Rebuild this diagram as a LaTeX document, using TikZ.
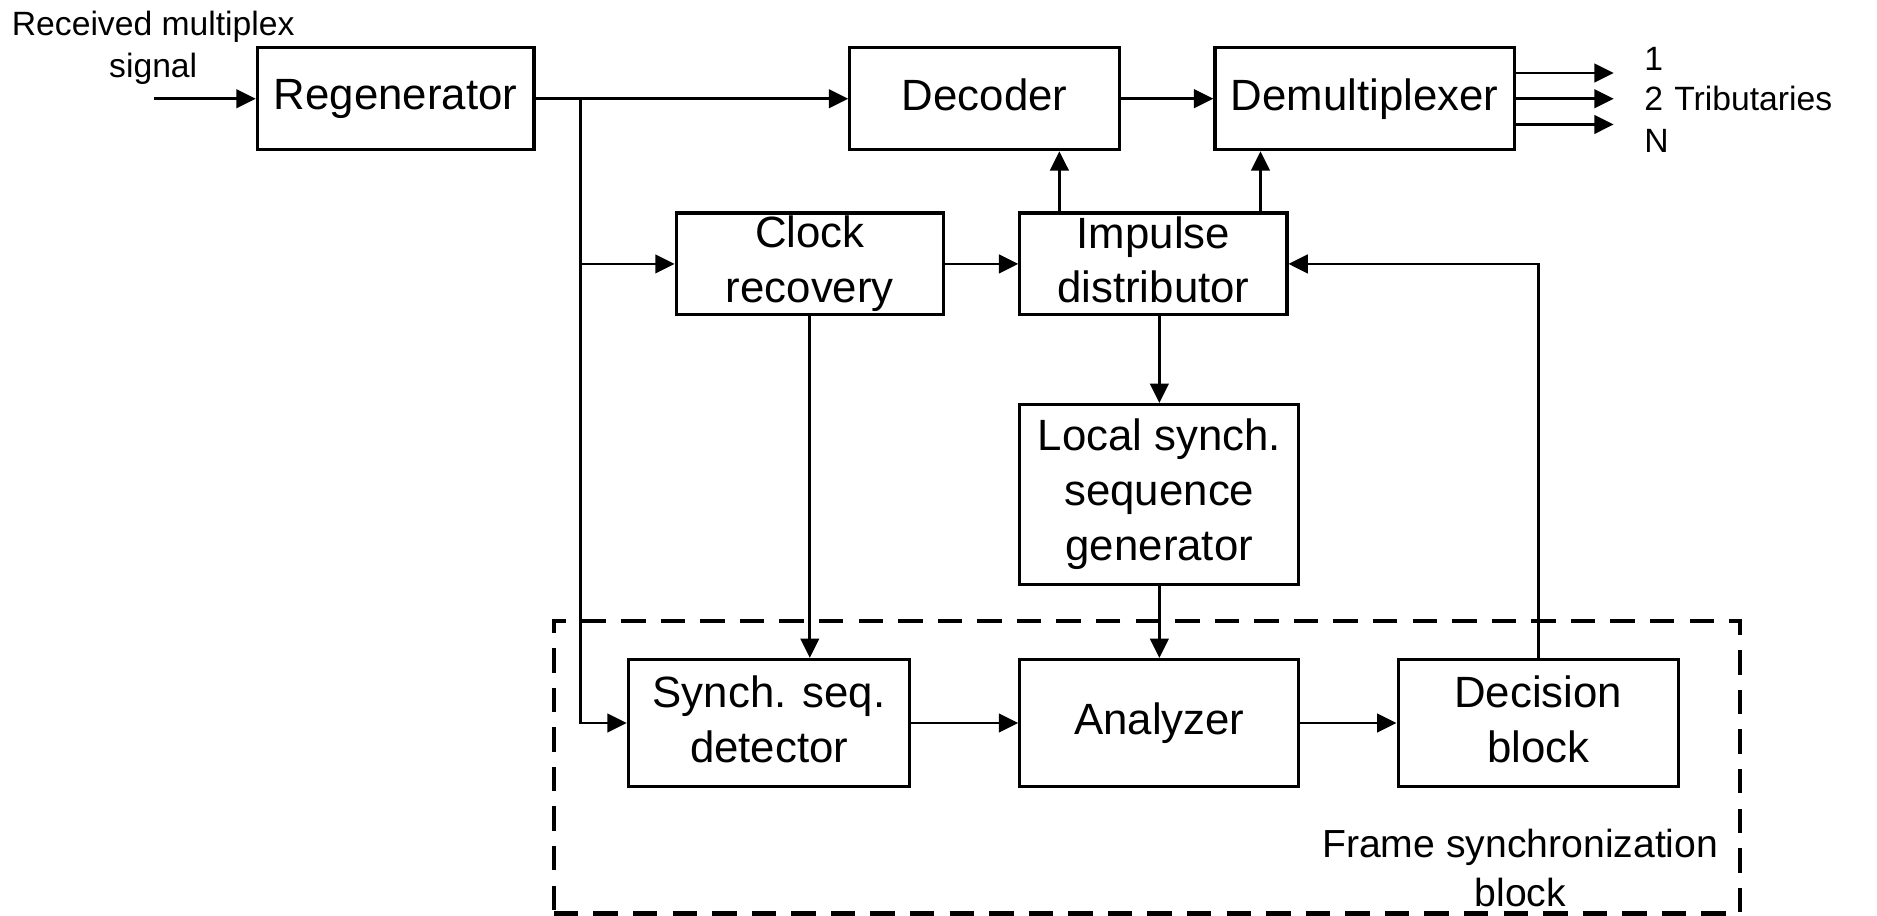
\documentclass[tikz,border=0pt]{standalone}
\usepackage{fontspec}
\setmainfont{Liberation Sans}
\usetikzlibrary{arrows.meta}
\newcommand{\lnstrut}{\rule[-2pt]{0pt}{9.45pt}}
\begin{document}
\begin{tikzpicture}[x=0.01cm,y=-0.01cm,
  blk/.style={draw,line width=0.75pt,rectangle,inner sep=0pt,align=center,
    font=\fontsize{10.4}{13}\selectfont},
  arr/.style={line width=0.65pt,-{Triangle[length=4.6pt,width=4.4pt]}},
  small/.style={inner sep=0pt,font=\fontsize{8}{10}\selectfont},
  framebox/.style={draw,line width=1pt,dash pattern=on 5.8pt off 3.6pt,rectangle,inner sep=0pt}
]
\useasboundingbox (0,0) rectangle (1568,765);
% frame synchronization block
\node[framebox,minimum width=9.9cm,minimum height=2.44cm] (frame) at (958,641) {};
\node[inner sep=0pt,align=center,font=\fontsize{9.3}{11.7}\selectfont] (framelbl) at (1270,725) {Frame synchronization\\block};
% blocks
\node[blk,minimum width=2.31cm,minimum height=0.85cm] (reg) at (330.5,82.5) {\lnstrut Regenerator};
\node[blk,minimum width=2.25cm,minimum height=0.85cm] (dec) at (822.5,82.5) {\lnstrut Decoder};
\node[blk,minimum width=2.50cm,minimum height=0.85cm] (dem) at (1140,82.5) {\lnstrut Demultiplexer};
\node[blk,minimum width=2.23cm,minimum height=0.85cm] (clk) at (676.5,220.5) {\lnstrut Clock\\\lnstrut recovery};
\node[blk,minimum width=2.23cm,minimum height=0.85cm] (imp) at (963.5,220.5) {\lnstrut Impulse\\\lnstrut distributor};
\node[blk,minimum width=2.33cm,minimum height=1.50cm] (loc) at (968.5,413) {\lnstrut Local synch.\\\lnstrut sequence\\\lnstrut generator};
\node[blk,minimum width=2.35cm,minimum height=1.06cm] (syn) at (642.5,604) {\lnstrut Synch. seq.\\\lnstrut detector};
\node[blk,minimum width=2.33cm,minimum height=1.06cm] (ana) at (968.5,604) {\lnstrut Analyzer};
\node[blk,minimum width=2.34cm,minimum height=1.06cm] (dcs) at (1285,604) {\lnstrut Decision\\\lnstrut block};
% labels
\node[small,align=center] (inlbl) at (128,40) {Received multiplex\\signal};
\node[small,anchor=west] (t1) at (1373,49) {1};
\node[small,anchor=west] (t2) at (1373,82.5) {2};
\node[small,anchor=west] (tN) at (1373,118) {N};
\node[small,anchor=west] (trib) at (1398,82.5) {Tributaries};
% coordinates
\coordinate (in) at (129,82.5);
\coordinate (br1) at (485,82.5);
\coordinate (br2) at (485,220.5);
\coordinate (o1) at (1348,61);
\coordinate (o2) at (1348,82.5);
\coordinate (o3) at (1348,104);
\coordinate (u1) at (885,0);
\coordinate (u2) at (1053,0);
% connectors
\draw[arr] (in) -- (reg.west);
\draw[arr] (reg.east) -- (dec.west);
\draw[arr] (br1) |- (syn.west);
\draw[arr] (br2) -- (clk.west);
\draw[arr] (dec.east) -- (dem.west);
\draw[arr] (dem.east |- o1) -- (o1);
\draw[arr] (dem.east |- o2) -- (o2);
\draw[arr] (dem.east |- o3) -- (o3);
\draw[arr] (clk.east) -- (imp.west);
\draw[arr] (imp.north -| u1) -- (dec.south -| u1);
\draw[arr] (imp.north -| u2) -- (dem.south -| u2);
\draw[arr] (imp.south -| loc.north) -- (loc.north);
\draw[arr] (loc.south) -- (ana.north);
\draw[arr] (clk.south) -- (clk.south |- syn.north);
\draw[arr] (syn.east) -- (ana.west);
\draw[arr] (ana.east) -- (dcs.west);
\draw[arr] (dcs.north) |- (imp.east);
\end{tikzpicture}
\end{document}
